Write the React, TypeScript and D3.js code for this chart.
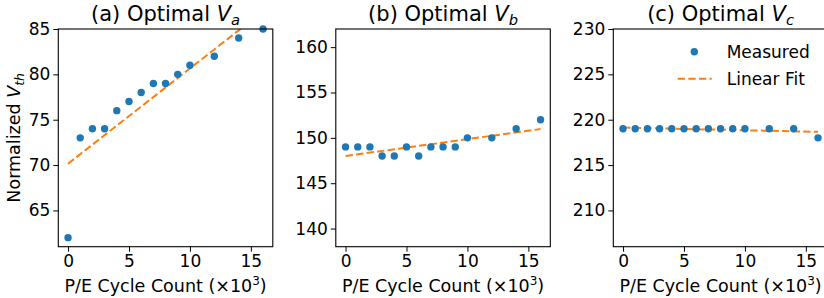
import * as d3 from 'd3';
import React, {useRef, useEffect} from 'react';

// P/E cycle count (x10^3)
const cycles = [0, 1, 2, 3, 4, 5, 6, 7, 8, 9, 10, 12, 14, 16];
const optimalVa = [62, 73, 74, 74, 76, 77, 78, 79, 79, 80, 81, 82, 84, 85];
const optimalVb = [149, 149, 149, 148, 148, 149, 148, 149, 149, 149, 150, 150, 151, 152];
const optimalVc = [219, 219, 219, 219, 219, 219, 219, 219, 219, 219, 219, 219, 219, 218];

// linear fit end points, read at x = 0 and x = 16
const fitX = [0, 16];
const fitVa = [70.15, 86.95];
const fitVb = [148.0, 150.97];
const fitVc = [219.13, 218.66];

const xTicks = [0, 5, 10, 15];
const yTicksA = [65, 70, 75, 80, 85];
const yTicksB = [140, 145, 150, 155, 160];
const yTicksC = [210, 215, 220, 225, 230];

const panels = [
  {key: 'a', sub: 'a', ys: optimalVa, fit: fitVa, domain: [61, 85], ticks: yTicksA},
  {key: 'b', sub: 'b', ys: optimalVb, fit: fitVb, domain: [138, 162], ticks: yTicksB},
  {key: 'c', sub: 'c', ys: optimalVc, fit: fitVc, domain: [206, 230], ticks: yTicksC},
];

const W = 824, H = 298;
const FONT = '"DejaVu Sans", sans-serif';
const BLUE = '#1f77b4', ORANGE = '#ff7f0e';

export default function App() {
  const ref = useRef<SVGSVGElement>(null);

  useEffect(() => {
    const svg = d3.select(ref.current);
    svg.selectAll('*').remove();

    const top = 29, plotH = 217.7, plotW = 214.5;
    const lefts = [58.3, 335.8, 613.3];

    panels.forEach((p, i) => {
      const g = svg.append('g').attr('transform', `translate(${lefts[i]},${top})`);
      const x = d3.scaleLinear().domain([-0.8, 16.8]).range([0, plotW]);
      const y = d3.scaleLinear().domain(p.domain).range([plotH, 0]);

      g.append('clipPath').attr('id', 'clip-' + p.key)
        .append('rect').attr('width', plotW).attr('height', plotH);

      // axes
      const xa = g.append('g').attr('transform', `translate(0,${plotH})`)
        .call(d3.axisBottom(x).tickValues(xTicks).tickSize(5).tickPadding(3).tickFormat(d3.format('d')));
      const ya = g.append('g')
        .call(d3.axisLeft(y).tickValues(p.ticks).tickSize(5).tickPadding(3).tickFormat(d3.format('d')));
      [xa, ya].forEach(a => {
        a.select('.domain').remove();
        a.selectAll('line').attr('stroke', '#000').attr('stroke-width', 1);
        a.selectAll('text').attr('font-family', FONT).attr('font-size', 17).attr('fill', '#000');
      });

      // fit line
      const line = d3.line<number>().x((d, j) => x(fitX[j])).y(d => y(d));
      g.append('path').datum(p.fit)
        .attr('clip-path', `url(#clip-${p.key})`)
        .attr('d', line)
        .attr('fill', 'none').attr('stroke', ORANGE).attr('stroke-width', 2)
        .attr('stroke-dasharray', '7.4,3.2');

      // measured points
      g.selectAll('circle.pt').data(p.ys).enter().append('circle')
        .attr('class', 'pt')
        .attr('cx', (d, j) => x(cycles[j]))
        .attr('cy', d => y(d))
        .attr('r', 3.7)
        .attr('fill', BLUE);

      // frame
      g.append('rect').attr('width', plotW).attr('height', plotH)
        .attr('fill', 'none').attr('stroke', '#000').attr('stroke-width', 1.1);

      // title
      const t = g.append('text').attr('x', plotW / 2).attr('y', -8.5)
        .attr('text-anchor', 'middle').attr('font-family', FONT).attr('font-size', 21);
      t.append('tspan').text(`(${p.key}) Optimal `);
      t.append('tspan').attr('font-style', 'italic').text('V');
      t.append('tspan').attr('font-style', 'italic').attr('font-size', 14.7).attr('dy', 4).text(p.sub);

      // x label
      const xl = g.append('text').attr('x', plotW / 2).attr('y', plotH + 45)
        .attr('text-anchor', 'middle').attr('font-family', FONT).attr('font-size', 17.5);
      xl.append('tspan').text('P/E Cycle Count (×10');
      xl.append('tspan').attr('font-size', 12).attr('dy', -7).text('3');
      xl.append('tspan').attr('dy', 7).text(')');
    });

    // y label
    const yl = svg.append('text')
      .attr('transform', `translate(20,${top + plotH / 2}) rotate(-90)`)
      .attr('text-anchor', 'middle').attr('font-family', FONT).attr('font-size', 17.5);
    yl.append('tspan').text('Normalized ');
    yl.append('tspan').attr('font-style', 'italic').text('V');
    yl.append('tspan').attr('font-style', 'italic').attr('font-size', 12.5).attr('dy', 4).text('th');

    // legend in panel c
    const lg = svg.append('g');
    lg.append('circle').attr('cx', 694.3).attr('cy', 51.7).attr('r', 3.7).attr('fill', BLUE);
    lg.append('line').attr('x1', 677.7).attr('x2', 711.7).attr('y1', 78.7).attr('y2', 78.7)
      .attr('stroke', ORANGE).attr('stroke-width', 2).attr('stroke-dasharray', '7.4,3.2');
    ['Measured', 'Linear Fit'].forEach((s, k) => {
      lg.append('text').attr('x', 726.7).attr('y', 51.7 + k * 27).attr('dy', '0.35em')
        .attr('font-family', FONT).attr('font-size', 17).attr('fill', '#000').text(s);
    });
  }, []);

  return (
    <svg ref={ref} width={W} height={H}
      style={{position: 'absolute', left: 0, top: 0, background: '#fff'}}>
    </svg>
  );
}
